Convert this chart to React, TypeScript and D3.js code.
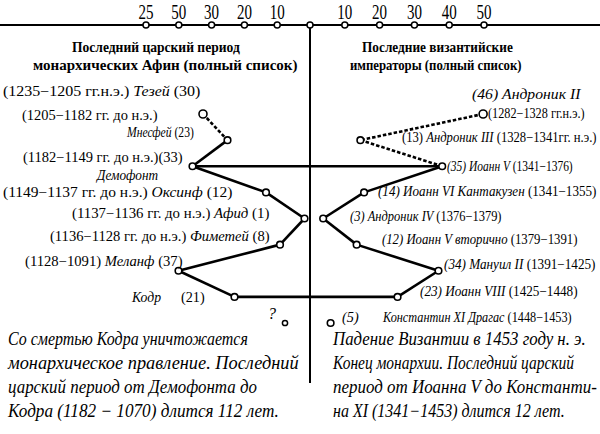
import React, { useLayoutEffect, useRef, useState } from "react";
import * as d3 from "d3";

// ---------- data ----------
const leftTickValues = [10, 20, 30, 40, 50];
const leftTickLabels = ["10", "20", "30", "50", "25"];
const rightTickValues = [10, 20, 30, 40, 50];
const rightTickLabels = ["10", "20", "30", "40", "50"];

const leftNames = ["Тезей", "Мнесфей", "Демофонт", "Оксинф", "Афид", "Фиметей", "Меланф", "Кодр"];
const leftReigns = [30, 23, 33, 12, 1, 8, 37, 21];
const leftDates = [
  "1235−1205 гг.н.э.",
  "1205−1182 гг. до н.э.",
  "1182−1149 гг. до н.э.",
  "1149−1137 гг. до н.э.",
  "1137−1136 гг. до н.э.",
  "1136−1128 гг. до н.э.",
  "1128−1091",
  "",
];
// segment style between consecutive rulers: true = dashed
const leftDashed = [true, false, false, false, false, false, false];

const rightNames = [
  "Андроник II",
  "Андроник III",
  "Иоанн V",
  "Иоанн VI Кантакузен",
  "Андроник IV",
  "Иоанн V вторично",
  "Мануил II",
  "Иоанн VIII",
  "Константин XI Драгас",
];
const rightReigns = [46, 13, 35, 14, 3, 12, 34, 23, 5];
const rightDates = [
  "1282−1328 гг.н.э.",
  "1328−1341гг. н.э.",
  "1341−1376",
  "1341−1355",
  "1376−1379",
  "1379−1391",
  "1391−1425",
  "1425−1448",
  "1448−1453",
];
const rightDashed = [true, true, false, false, false, false, false];

const leftTitle = ["Последний царский период", "монархических Афин (полный список)"];
const rightTitle = ["Последние византийские", "императоры (полный список)"];

const leftNote = [
  "Со смертью Кодра уничтожается",
  "монархическое правление. Последний",
  "царский  период от  Демофонта до",
  "Кодра (1182 − 1070)  длится 112 лет.",
];
const rightNote = [
  "Падение  Византии  в 1453  году н. э.",
  "Конец монархии. Последний царский",
  "период  от  Иоанна V  до  Константи-",
  "на XI  (1341−1453)  длится 12 лет.",
];

// ---------- layout ----------
const W = 600;
const H = 434;
const CX = 310;
const AXIS_Y = 25;
const FONT = "Liberation Serif, Times New Roman, serif";

const axisLeft = d3.scaleLinear().domain([0, 50]).range([CX, 146]);
const axisRight = d3.scaleLinear().domain([0, 50]).range([CX, 484]);
const xLeft = d3.scaleLinear().domain([0, 50]).range([308, 133]);
const xRight = d3.scaleLinear().domain([0, 50]).range([312, 498]);
const yRow = d3.scaleLinear().domain([0, 8]).range([114, 323]);

type Part = [string, boolean];
function Lbl({
  x,
  y,
  w,
  parts,
  size = 14,
  weight = "normal",
  anchor = "start",
}: {
  x: number;
  y: number;
  w: number;
  parts: Part[];
  size?: number;
  weight?: string;
  anchor?: string;
}) {
  const ref = useRef<SVGTextElement>(null);
  const [k, setK] = useState(1);
  useLayoutEffect(() => {
    if (ref.current) {
      const n = ref.current.getBBox().width;
      if (n > 0) setK(w / n);
    }
  }, [w]);
  return (
    <text
      ref={ref}
      transform={`translate(${x},${y}) scale(${k},1)`}
      textAnchor={anchor}
      style={{ fontFamily: FONT }}
      fontSize={size}
      fontWeight={weight}
      fill="#000"
    >
      {parts.map((p, i) => (
        <tspan key={i} fontStyle={p[1] ? "italic" : "normal"}>
          {p[0]}
        </tspan>
      ))}
    </text>
  );
}

export default function App() {
  const line = d3.line<[number, number]>().x((d) => d[0]).y((d) => d[1]);
  const lp: [number, number][] = leftReigns.map((v, i) => [xLeft(v), yRow(i)]);
  const rp: [number, number][] = rightReigns.map((v, i) => [xRight(v), yRow(i)]);

  const segs = (pts: [number, number][], dashed: boolean[]) =>
    dashed.map((d, i) => (
      <path
        key={i}
        d={line([pts[i], pts[i + 1]]) || ""}
        stroke="#000"
        strokeWidth={2.6}
        fill="none"
        strokeDasharray={d ? "3.5,2" : undefined}
      />
    ));

  const L = leftDates;
  const N = leftNames;
  const R = leftReigns;
  const RD = rightDates;
  const RN = rightNames;
  const RR = rightReigns;

  return (
    <svg width={W} height={H} style={{ position: "absolute", left: 0, top: 0, background: "#fff" }}>
      <rect x={0} y={0} width={W} height={H} fill="#fff" />
      {/* top axis */}
      <line x1={0} x2={W} y1={AXIS_Y} y2={AXIS_Y} stroke="#000" strokeWidth={2} />
      <line x1={CX} x2={CX} y1={AXIS_Y} y2={383} stroke="#000" strokeWidth={2} />
      {leftTickValues.map((v, i) => (
        <g key={"lt" + i}>
          <circle cx={axisLeft(v)} cy={AXIS_Y} r={3} fill="#fff" stroke="#000" strokeWidth={1.5} />
          <Lbl x={axisLeft(v)} y={19} w={15} size={20} anchor="middle" parts={[[leftTickLabels[i], false]]} />
        </g>
      ))}
      {rightTickValues.map((v, i) => (
        <g key={"rt" + i}>
          <circle cx={axisRight(v)} cy={AXIS_Y} r={3} fill="#fff" stroke="#000" strokeWidth={1.5} />
          <Lbl x={axisRight(v)} y={19} w={15} size={20} anchor="middle" parts={[[rightTickLabels[i], false]]} />
        </g>
      ))}
      <circle cx={CX} cy={AXIS_Y} r={3} fill="#fff" stroke="#000" strokeWidth={1.5} />

      {/* titles */}
      <Lbl x={72} y={52} w={168} size={14} weight="bold" parts={[[leftTitle[0], false]]} />
      <Lbl x={33} y={70} w={265} size={14} weight="bold" parts={[[leftTitle[1], false]]} />
      <Lbl x={362} y={52} w={151} size={14} weight="bold" parts={[[rightTitle[0], false]]} />
      <Lbl x={350} y={70} w={172} size={14} weight="bold" parts={[[rightTitle[1], false]]} />

      {/* horizontal links */}
      <path d={line([lp[2], rp[2]]) || ""} stroke="#000" strokeWidth={2.6} fill="none" />
      <path d={line([lp[7], rp[7]]) || ""} stroke="#000" strokeWidth={2.6} fill="none" />

      {segs(lp, leftDashed)}
      {segs(rp, rightDashed)}

      {lp.map((p, i) => (
        <circle key={"lp" + i} cx={p[0]} cy={p[1]} r={i === 0 ? 4 : 3.3} fill="#fff" stroke="#000" strokeWidth={1.6} />
      ))}
      {rp.map((p, i) => (
        <circle key={"rp" + i} cx={p[0]} cy={p[1]} r={i === 0 ? 4 : 3.3} fill="#fff" stroke="#000" strokeWidth={1.6} />
      ))}
      {/* unknown successor on the Athenian side */}
      <Lbl x={268} y={319} w={8} size={16} parts={[["?", true]]} />
      <circle cx={285} cy={yRow(8)} r={2.6} fill="#fff" stroke="#000" strokeWidth={1.5} />

      {/* left labels */}
      <Lbl x={3} y={96} w={198} parts={[[`(${L[0]}) `, false], [N[0], true], [` (${R[0]})`, false]]} />
      <Lbl x={22} y={120} w={136} parts={[[`(${L[1]})`, false]]} />
      <Lbl x={127} y={137} w={68} parts={[[N[1], true], [` (${R[1]})`, false]]} />
      <Lbl x={23} y={162} w={160} parts={[[`(${L[2]})(${R[2]})`, false]]} />
      <Lbl x={97} y={180} w={63} parts={[[N[2], true]]} />
      <Lbl x={3} y={197} w={230} parts={[[`(${L[3]})  `, false], [N[3], true], [`  (${R[3]})`, false]]} />
      <Lbl x={72} y={218} w={198} parts={[[`(${L[4]})  `, false], [N[4], true], [`  (${R[4]})`, false]]} />
      <Lbl x={50} y={241} w={220} parts={[[`(${L[5]})  `, false], [N[5], true], [`  (${R[5]})`, false]]} />
      <Lbl x={25} y={266} w={158} parts={[[`(${L[6]})  `, false], [N[6], true], [` (${R[6]})`, false]]} />
      <Lbl x={132} y={302} w={30} parts={[[N[7], true]]} />
      <Lbl x={181} y={302} w={24} parts={[[`(${R[7]})`, false]]} />

      {/* right labels */}
      <Lbl x={472} y={99} w={110} parts={[[`(${RR[0]})  ${RN[0]}`, true]]} />
      <Lbl x={488} y={118} w={97} parts={[[`(${RD[0]})`, false]]} />
      <Lbl x={402} y={142} w={195} parts={[[`(${RR[1]}) `, false], [RN[1], true], [` (${RD[1]})`, false]]} />
      <Lbl x={447} y={171} w={126} parts={[[`(${RR[2]}) ${RN[2]} `, true], [`(${RD[2]})`, false]]} />
      <Lbl x={378} y={196} w={219} parts={[[`(${RR[3]}) ${RN[3]} `, true], [`(${RD[3]})`, false]]} />
      <Lbl x={350} y={221} w={152} parts={[[`(${RR[4]}) ${RN[4]} `, true], [`(${RD[4]})`, false]]} />
      <Lbl x={382} y={244} w={196} parts={[[`(${RR[5]}) ${RN[5]} `, true], [`(${RD[5]})`, false]]} />
      <Lbl x={444} y={269} w={152} parts={[[`(${RR[6]}) ${RN[6]} `, true], [`(${RD[6]})`, false]]} />
      <Lbl x={420} y={296} w={158} parts={[[`(${RR[7]}) ${RN[7]} `, true], [`(${RD[7]})`, false]]} />
      <Lbl x={342} y={322} w={17} parts={[[`(${RR[8]})`, true]]} />
      <Lbl x={383} y={322} w={190} parts={[[`${RN[8]} `, true], [`(${RD[8]})`, false]]} />

      {/* notes */}
      {leftNote.map((t, i) => (
        <Lbl key={"ln" + i} x={8} y={345 + i * 24} w={[240, 292, 249, 272][i]} size={18} parts={[[t, true]]} />
      ))}
      {rightNote.map((t, i) => (
        <Lbl key={"rn" + i} x={333} y={345 + i * 24} w={[254, 242, 264, 232][i]} size={18} parts={[[t, true]]} />
      ))}
    </svg>
  );
}
